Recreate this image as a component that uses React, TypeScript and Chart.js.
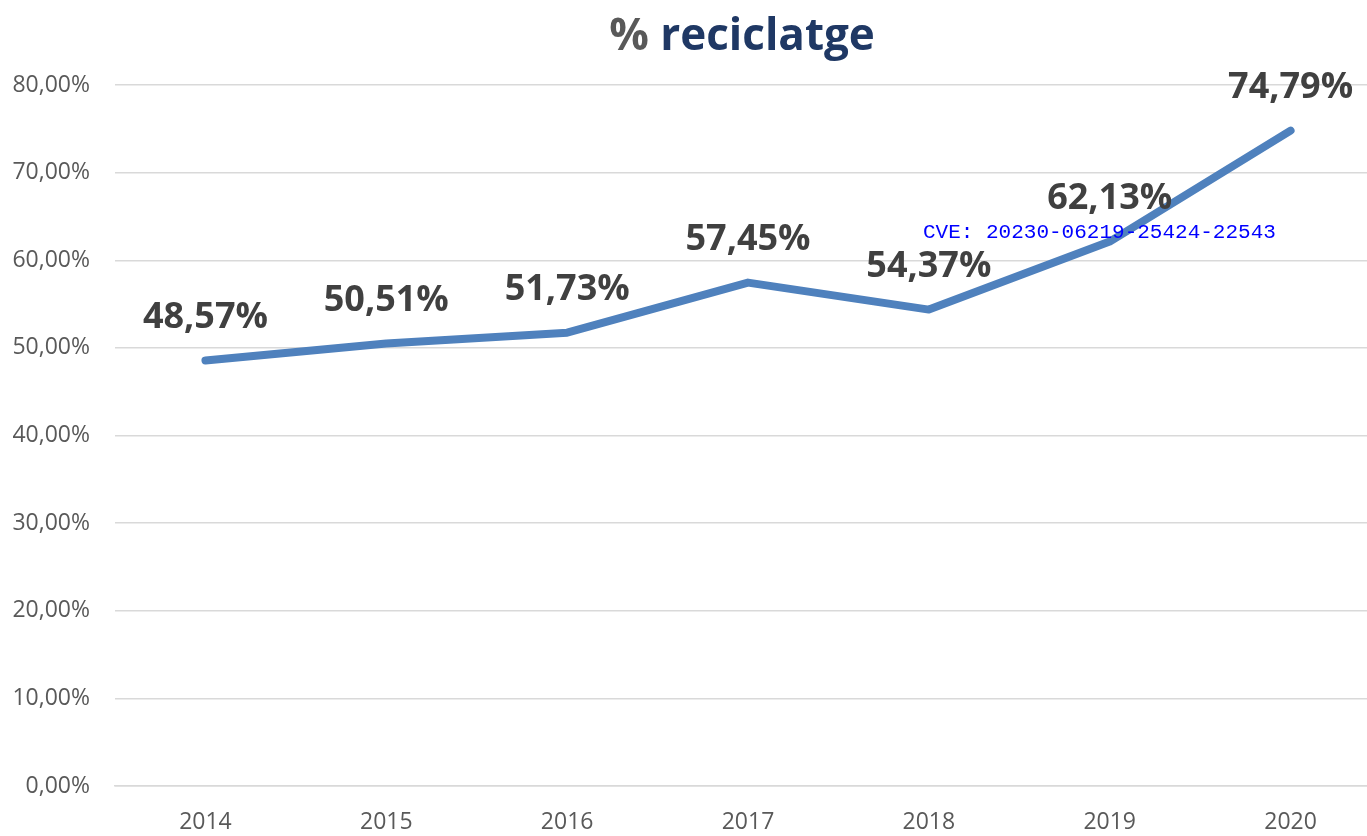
import React, { useEffect, useRef } from "react";
import { Chart, registerables } from "chart.js";

Chart.register(...registerables);

const categories = ["2014", "2015", "2016", "2017", "2018", "2019", "2020"];
const recyclingRate = [48.57, 50.51, 51.73, 57.45, 54.37, 62.13, 74.79];
const titlePercent = "%";
const titleWord = " reciclatge";
const watermarkText = "CVE: 20230-06219-25424-22543";

const fmt = (v: number) => v.toFixed(2).replace(".", ",") + "%";

const FONT = "'Open Sans', 'Liberation Sans', sans-serif";

const decorPlugin = {
  id: "decor",
  afterDatasetsDraw(chart: any) {
    const ctx = chart.ctx;
    const meta = chart.getDatasetMeta(0);
    ctx.save();
    // data labels
    ctx.font = `bold 36px ${FONT}`;
    ctx.fillStyle = "#404040";
    ctx.textAlign = "center";
    ctx.textBaseline = "middle";
    meta.data.forEach((pt: any, i: number) => {
      ctx.fillText(fmt(recyclingRate[i]), pt.x, pt.y - 43);
    });
    // title
    ctx.font = `bold 44px ${FONT}`;
    ctx.textBaseline = "alphabetic";
    ctx.textAlign = "left";
    const w1 = ctx.measureText(titlePercent).width;
    const w2 = ctx.measureText(titleWord).width;
    const cx = 742;
    const x0 = cx - (w1 + w2) / 2;
    ctx.fillStyle = "#595959";
    ctx.fillText(titlePercent, x0, 50);
    ctx.fillStyle = "#1F3864";
    ctx.fillText(titleWord, x0 + w1, 50);
    // watermark
    ctx.font = `21px 'Liberation Mono', 'Courier New', monospace`;
    ctx.fillStyle = "#0000FF";
    ctx.fillText(watermarkText, 923, 238);
    ctx.restore();
  },
};

export default function App() {
  const ref = useRef<HTMLCanvasElement | null>(null);
  useEffect(() => {
    if (!ref.current) return;
    const chart = new Chart(ref.current, {
      type: "line",
      data: {
        labels: categories,
        datasets: [
          {
            data: recyclingRate,
            borderColor: "#4F81BD",
            borderWidth: 8,
            borderCapStyle: "round",
            borderJoinStyle: "round",
            pointRadius: 0,
            pointHoverRadius: 0,
            tension: 0,
            fill: false,
          },
        ],
      },
      options: {
        animation: false,
        responsive: false,
        layout: { padding: { top: 85, left: 0, right: 0, bottom: 0 } },
        plugins: {
          legend: { display: false },
          title: { display: false },
          tooltip: { enabled: false },
        },
        scales: {
          x: {
            offset: true,
            grid: { display: false, drawTicks: false },
            border: { display: true, color: "#D9D9D9", width: 1.5 },
            ticks: {
              color: "#595959",
              font: { family: FONT, size: 23 },
              padding: 23,
              maxRotation: 0,
            },
            afterFit: (s: any) => {
              s.height = 50;
            },
          },
          y: {
            min: 0,
            max: 80,
            grid: { color: "#D9D9D9", lineWidth: 1.5, drawTicks: false },
            border: { display: false },
            ticks: {
              stepSize: 10,
              color: "#595959",
              font: { family: FONT, size: 23 },
              padding: 25,
              callback: (v: any) => fmt(Number(v)),
            },
            afterFit: (s: any) => {
              s.width = 115;
            },
          },
        },
      },
      plugins: [decorPlugin],
    });
    return () => chart.destroy();
  }, []);
  return (
    <div
      style={{
        position: "fixed",
        left: 0,
        top: 0,
        width: 1367,
        height: 836,
        overflow: "hidden",
        background: "#ffffff",
      }}
    >
      <canvas ref={ref} width={1381} height={836} style={{ display: "block" }} />
    </div>
  );
}
